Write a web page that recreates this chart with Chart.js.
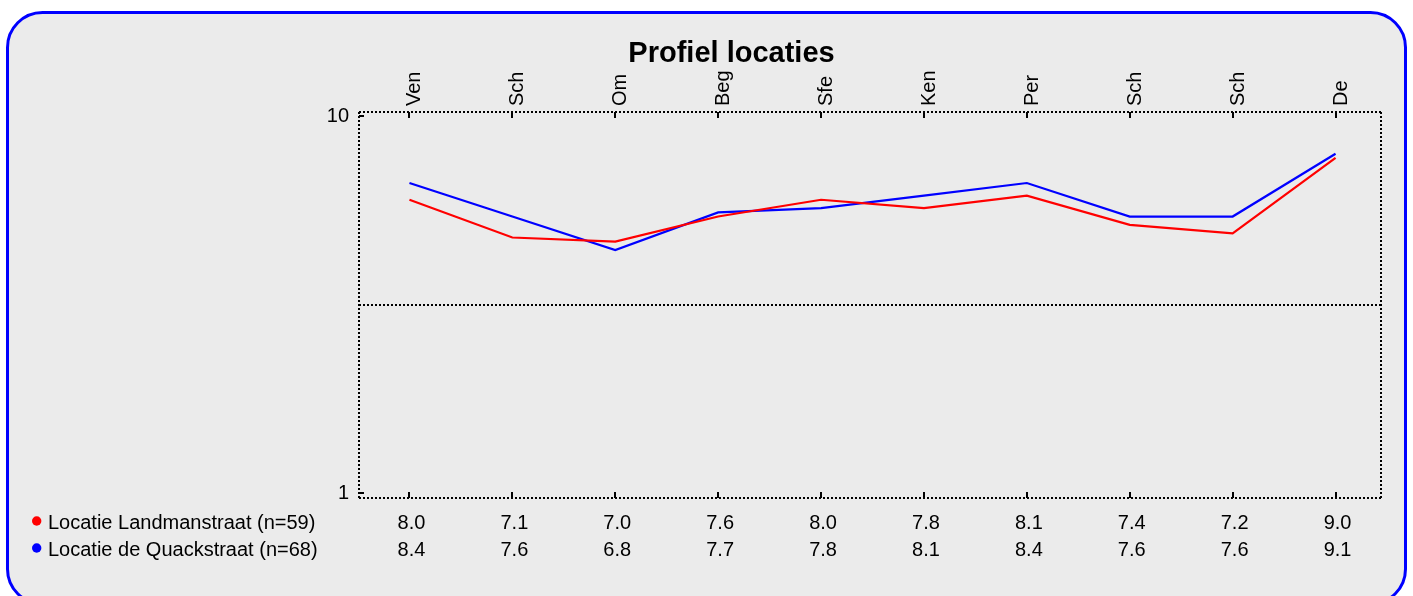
<!DOCTYPE html>
<html>
<head>
<meta charset="utf-8">
<script src="https://cdn.jsdelivr.net/npm/chart.js@4/dist/chart.umd.min.js"></script>
<style>
  html, body { margin: 0; padding: 0; background: #ffffff; }
  canvas { display: block; }
</style>
</head>
<body>
<canvas id="c" width="1413" height="596"></canvas>
<script>
const titleText = 'Profiel locaties';
const categories = ['Ven', 'Sch', 'Om', 'Beg', 'Sfe', 'Ken', 'Per', 'Sch', 'Sch', 'De'];
const seriesNames = ['Locatie Landmanstraat (n=59)', 'Locatie de Quackstraat (n=68)'];
const landmanstraat = [8.0, 7.1, 7.0, 7.6, 8.0, 7.8, 8.1, 7.4, 7.2, 9.0];
const quackstraat = [8.4, 7.6, 6.8, 7.7, 7.8, 8.1, 8.4, 7.6, 7.6, 9.1];
const yTickValues = [1, 10];
const yMin = 1, yMax = 10;
const midLineValue = 5.5;
const seriesColors = ['#ff0000', '#0000ff'];

const FONT = 'Arial, "Liberation Sans", sans-serif';

const framePlugin = {
  id: 'frame',
  beforeDraw(chart) {
    const ctx = chart.ctx;
    ctx.save();
    ctx.fillStyle = '#ffffff';
    ctx.fillRect(0, 0, chart.width, chart.height);
    const x0 = 7.5, y0 = 12.5, x1 = 1405.5, y1 = 604, r = 35;
    ctx.beginPath();
    ctx.moveTo(x0 + r, y0);
    ctx.lineTo(x1 - r, y0);
    ctx.arcTo(x1, y0, x1, y0 + r, r);
    ctx.lineTo(x1, y1 - r);
    ctx.arcTo(x1, y1, x1 - r, y1, r);
    ctx.lineTo(x0 + r, y1);
    ctx.arcTo(x0, y1, x0, y1 - r, r);
    ctx.lineTo(x0, y0 + r);
    ctx.arcTo(x0, y0, x0 + r, y0, r);
    ctx.closePath();
    ctx.fillStyle = '#ebebeb';
    ctx.fill();
    ctx.lineWidth = 3;
    ctx.strokeStyle = '#0000ff';
    ctx.stroke();
    ctx.restore();
  },
  beforeDatasetsDraw(chart) {
    const ctx = chart.ctx;
    const a = chart.chartArea;
    const xs = chart.scales.x, ys = chart.scales.y;
    const L = Math.round(a.left + 1), R = Math.round(a.right - 6), T = Math.round(a.top - 4), B = Math.round(a.bottom + 5);
    ctx.save();
    ctx.strokeStyle = '#000000';
    ctx.lineWidth = 2;
    ctx.setLineDash([2, 2]);
    ctx.beginPath();
    ctx.moveTo(L, T); ctx.lineTo(R, T);
    ctx.moveTo(R, T); ctx.lineTo(R, B);
    ctx.moveTo(L, B); ctx.lineTo(R, B);
    ctx.moveTo(L, T); ctx.lineTo(L, B);
    const ym = Math.round(ys.getPixelForValue(midLineValue));
    ctx.moveTo(L, ym); ctx.lineTo(R, ym);
    ctx.stroke();
    ctx.setLineDash([]);
    ctx.beginPath();
    for (let i = 0; i < categories.length; i++) {
      const x = Math.round(xs.getPixelForValue(i));
      ctx.moveTo(x, T); ctx.lineTo(x, T + 6);
      ctx.moveTo(x, B); ctx.lineTo(x, B - 6);
    }
    yTickValues.forEach(v => {
      const y = Math.round(ys.getPixelForValue(v));
      ctx.moveTo(L, y); ctx.lineTo(L + 5, y);
    });
    ctx.stroke();
    ctx.restore();
  },
  afterDraw(chart) {
    const ctx = chart.ctx;
    const xs = chart.scales.x;
    ctx.save();
    // title
    ctx.fillStyle = '#000000';
    ctx.font = 'bold 29px ' + FONT;
    ctx.textAlign = 'center';
    ctx.textBaseline = 'alphabetic';
    ctx.fillText(titleText, 731.5, 62);
    // rotated category labels
    ctx.font = '20px ' + FONT;
    ctx.textAlign = 'left';
    categories.forEach((lab, i) => {
      const x = xs.getPixelForValue(i);
      ctx.save();
      ctx.translate(x + 11, chart.chartArea.top - 10);
      ctx.rotate(-Math.PI / 2);
      ctx.fillText(lab, 0, 0);
      ctx.restore();
    });
    // table
    const rows = [landmanstraat, quackstraat];
    const baselines = [529, 556];
    rows.forEach((row, r) => {
      const yb = baselines[r];
      ctx.fillStyle = seriesColors[r];
      ctx.beginPath();
      ctx.arc(36.7, yb - 8, 4.7, 0, Math.PI * 2);
      ctx.fill();
      ctx.fillStyle = '#000000';
      ctx.textAlign = 'left';
      ctx.fillText(seriesNames[r], 48, yb);
      ctx.textAlign = 'center';
      row.forEach((v, i) => {
        ctx.fillText(v.toFixed(1), xs.getPixelForValue(i) + 2, yb);
      });
    });
    ctx.restore();
  }
};

new Chart(document.getElementById('c'), {
  type: 'line',
  data: {
    labels: categories,
    datasets: [
      { label: seriesNames[0], data: landmanstraat, borderColor: seriesColors[0], backgroundColor: seriesColors[0], borderWidth: 2.2, pointRadius: 0, tension: 0, fill: false },
      { label: seriesNames[1], data: quackstraat, borderColor: seriesColors[1], backgroundColor: seriesColors[1], borderWidth: 2.2, pointRadius: 0, tension: 0, fill: false }
    ]
  },
  options: {
    responsive: false,
    animation: false,
    layout: { padding: { left: 0, right: 26, top: 0, bottom: 103 } },
    plugins: { legend: { display: false }, title: { display: false }, tooltip: { enabled: false } },
    scales: {
      x: {
        position: 'top',
        offset: true,
        border: { display: false },
        grid: { display: false, drawTicks: false },
        ticks: { display: false },
        afterFit(scale) { scale.height = 116; }
      },
      y: {
        type: 'linear',
        min: yMin,
        max: yMax,
        border: { display: false },
        grid: { display: false, drawTicks: false },
        ticks: { color: '#000000', font: { family: FONT, size: 20 }, padding: 9 },
        afterBuildTicks(scale) { scale.ticks = yTickValues.map(v => ({ value: v })); },
        afterFit(scale) { scale.width = 358; }
      }
    }
  },
  plugins: [framePlugin]
});
</script>
</body>
</html>
